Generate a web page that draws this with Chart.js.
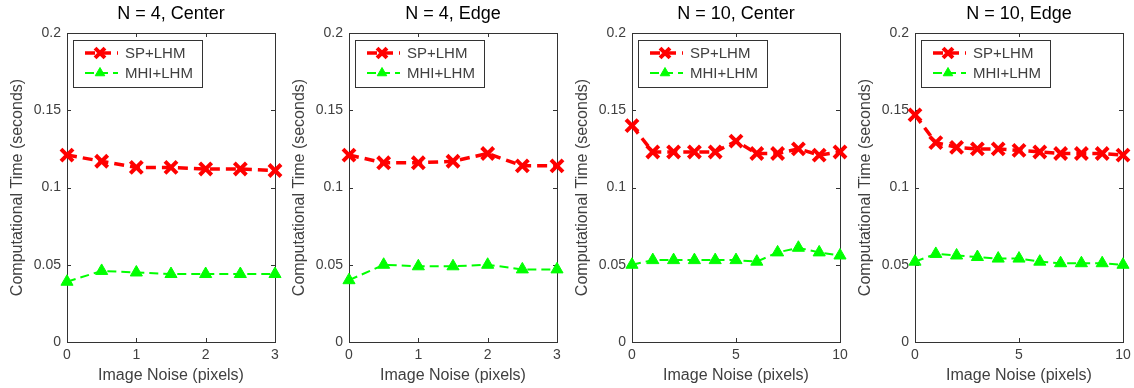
<!DOCTYPE html>
<html>
<head>
<meta charset="utf-8">
<script src="https://cdn.jsdelivr.net/npm/chart.js@4/dist/chart.umd.min.js"></script>
<style>
  html, body { margin: 0; padding: 0; background: #fff; }
  #wrap { position: relative; width: 1134px; height: 388px; overflow: hidden; }
  .panel { position: absolute; top: 0; width: 290px; height: 388px; }
</style>
</head>
<body>
<div id="wrap">
  <div class="panel" style="left:0px"><canvas id="c0"></canvas></div>
  <div class="panel" style="left:282px"><canvas id="c1"></canvas></div>
  <div class="panel" style="left:565px"><canvas id="c2"></canvas></div>
  <div class="panel" style="left:848px"><canvas id="c3"></canvas></div>
</div>
<script>
/* ── Data ──────────────────────────────────────────────────────────────────── */
const TITLES = ['N = 4, Center', 'N = 4, Edge', 'N = 10, Center', 'N = 10, Edge'];
const SERIES = ['SP+LHM', 'MHI+LHM'];

const noiseSmall = [0, 0.5, 1, 1.5, 2, 2.5, 3];
const noiseLarge = [0, 1, 2, 3, 4, 5, 6, 7, 8, 9, 10];

const spN4Center  = [0.121, 0.117, 0.113, 0.113, 0.112, 0.112, 0.111];
const mhiN4Center = [0.039, 0.046, 0.045, 0.044, 0.044, 0.044, 0.044];

const spN4Edge    = [0.121, 0.116, 0.116, 0.117, 0.122, 0.114, 0.114];
const mhiN4Edge   = [0.040, 0.050, 0.049, 0.049, 0.050, 0.047, 0.047];

const spN10Center  = [0.140, 0.123, 0.123, 0.123, 0.123, 0.130, 0.122, 0.122, 0.125, 0.121, 0.123];
const mhiN10Center = [0.050, 0.053, 0.053, 0.053, 0.053, 0.053, 0.052, 0.058, 0.061, 0.058, 0.056];

const spN10Edge    = [0.147, 0.129, 0.126, 0.125, 0.125, 0.124, 0.123, 0.122, 0.122, 0.122, 0.121];
const mhiN10Edge   = [0.052, 0.057, 0.056, 0.055, 0.054, 0.054, 0.052, 0.051, 0.051, 0.051, 0.050];

const xMaxes   = [3, 3, 10, 10];
const xSteps   = [1, 1, 5, 5];
const yTicks   = [0, 0.05, 0.1, 0.15, 0.2];

const PANELS = [
  { x: noiseSmall, sp: spN4Center,  mhi: mhiN4Center },
  { x: noiseSmall, sp: spN4Edge,    mhi: mhiN4Edge },
  { x: noiseLarge, sp: spN10Center, mhi: mhiN10Center },
  { x: noiseLarge, sp: spN10Edge,   mhi: mhiN10Edge },
];

// ── Style ─────────────────────────────────────────────────────────────────────
const FONT = "'Liberation Sans', Arial, sans-serif";
const AXIS_COLOR = '#333';
const TEXT_COLOR = '#404040';

const STYLES = [
  { color: '#ff0000', width: 3.5, dash: [10, 6], point: 'crossRot', radius: 8.5, pw: 4 },
  { color: '#00ff00', width: 2,   dash: [9, 5],  point: 'triangle', radius: 7,   pw: 1 },
];

// ── Plugins ───────────────────────────────────────────────────────────────────
// Box round the plot area with inward ticks on all four sides (MATLAB style)
const boxPlugin = {
  id: 'box',
  beforeDatasetsDraw(chart) {
    const { ctx, chartArea: a, scales } = chart;
    ctx.save();
    ctx.strokeStyle = AXIS_COLOR;
    ctx.lineWidth = 1;
    ctx.strokeRect(Math.round(a.left) + 0.5, Math.round(a.top) + 0.5,
                   Math.round(a.right - a.left), Math.round(a.bottom - a.top));
    ctx.beginPath();
    scales.x.ticks.forEach(t => {
      const px = Math.round(scales.x.getPixelForValue(t.value)) + 0.5;
      ctx.moveTo(px, a.bottom); ctx.lineTo(px, a.bottom - 4);
      ctx.moveTo(px, a.top);    ctx.lineTo(px, a.top + 4);
    });
    scales.y.ticks.forEach(t => {
      const py = Math.round(scales.y.getPixelForValue(t.value)) + 0.5;
      ctx.moveTo(a.left, py);  ctx.lineTo(a.left + 4, py);
      ctx.moveTo(a.right, py); ctx.lineTo(a.right - 4, py);
    });
    ctx.stroke();
    ctx.restore();
  }
};

// Boxed legend in top-left corner: dashed line sample + marker + label
const legendPlugin = {
  id: 'boxLegend',
  afterDatasetsDraw(chart) {
    const { ctx, chartArea: a } = chart;
    const x0 = a.left + 6, y0 = a.top + 7, w = 129, h = 47;
    ctx.save();
    ctx.fillStyle = '#fff';
    ctx.fillRect(x0, y0, w, h);
    ctx.strokeStyle = AXIS_COLOR;
    ctx.lineWidth = 1;
    ctx.strokeRect(Math.round(x0) + 0.5, Math.round(y0) + 0.5, w, h);
    chart.data.datasets.forEach((ds, i) => {
      const y = y0 + 13 + i * 20;
      ctx.save();
      ctx.strokeStyle = ds.borderColor;
      ctx.lineWidth = ds.borderWidth;
      ctx.setLineDash(ds.borderDash);
      ctx.beginPath();
      ctx.moveTo(x0 + 12, y); ctx.lineTo(x0 + 45, y);
      ctx.stroke();
      ctx.restore();
      ctx.strokeStyle = ds.pointBorderColor;
      ctx.fillStyle = ds.pointBackgroundColor;
      ctx.lineWidth = ds.pointBorderWidth;
      Chart.helpers.drawPoint(ctx, { pointStyle: ds.pointStyle, radius: ds.pointRadius - 1.5, borderWidth: ds.pointBorderWidth, rotation: 0 }, x0 + 27, y);
      ctx.fillStyle = TEXT_COLOR;
      ctx.font = '15px ' + FONT;
      ctx.textBaseline = 'middle';
      ctx.fillText(ds.label, x0 + 52, y + 1);
    });
    ctx.restore();
  }
};

// ── Charts ────────────────────────────────────────────────────────────────────
PANELS.forEach((p, idx) => {
  const datasets = [p.sp, p.mhi].map((vals, i) => {
    const s = STYLES[i];
    return {
      label: SERIES[i],
      data: vals.map((v, k) => ({ x: p.x[k], y: v })),
      borderColor: s.color,
      borderWidth: s.width,
      borderDash: s.dash,
      pointStyle: s.point,
      pointRadius: s.radius,
      pointBorderWidth: s.pw,
      pointBorderColor: s.color,
      pointBackgroundColor: s.color,
      tension: 0,
      clip: false,
    };
  });

  new Chart(document.getElementById('c' + idx), {
    type: 'line',
    data: { datasets },
    plugins: [boxPlugin, legendPlugin],
    options: {
      responsive: true, maintainAspectRatio: false, animation: false,
      layout: { padding: { left: 0, right: 15, top: 0, bottom: 0 } },
      plugins: {
        legend: { display: false },
        tooltip: { enabled: false },
        title: {
          display: true, text: TITLES[idx], fullSize: false,
          color: '#000', font: { family: FONT, size: 18, weight: 'normal' },
          padding: { top: 3, bottom: 8.4 },
        },
      },
      scales: {
        x: {
          type: 'linear', min: 0, max: xMaxes[idx],
          afterFit: s => { s.height = 46; },
          grid: { display: false, drawTicks: false },
          border: { display: false },
          ticks: { stepSize: xSteps[idx], color: TEXT_COLOR, padding: 5, maxRotation: 0,
                   font: { family: FONT, size: 14 } },
          title: { display: true, text: 'Image Noise (pixels)', color: TEXT_COLOR,
                   font: { family: FONT, size: 16 }, padding: { top: 0, bottom: 3 } },
        },
        y: {
          min: 0, max: 0.2,
          afterFit: s => { s.width = 67; },
          afterBuildTicks: s => { s.ticks = yTicks.map(v => ({ value: v })); },
          grid: { display: false, drawTicks: false },
          border: { display: false },
          ticks: { color: TEXT_COLOR, padding: 6, font: { family: FONT, size: 14 },
                   callback: v => String(v) },
          title: { display: true, text: 'Computational Time (seconds)', color: TEXT_COLOR,
                   font: { family: FONT, size: 16 }, padding: { top: 8, bottom: 0 } },
        },
      },
    },
  });
});
</script>
</body>
</html>
